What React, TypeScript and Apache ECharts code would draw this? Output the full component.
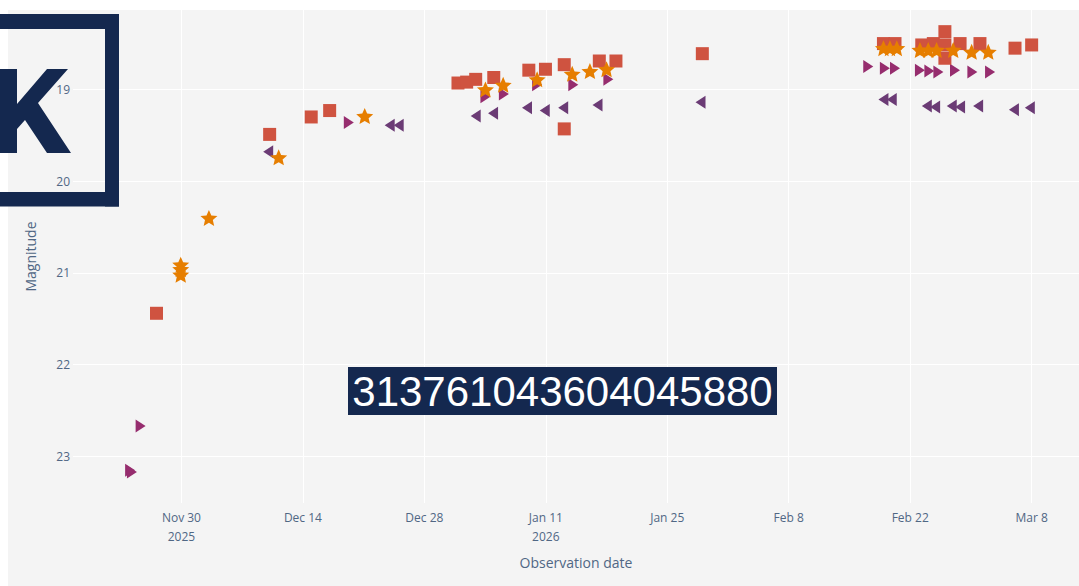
import React, { useEffect, useRef } from "react";
import * as echarts from "echarts";

// ---------- data ----------
const xTickDates = ["2025-11-30", "2025-12-14", "2025-12-28", "2026-01-11", "2026-01-25", "2026-02-08", "2026-02-22", "2026-03-08"];
const xTickLabels = ["Nov 30\n2025", "Dec 14", "Dec 28", "Jan 11\n2026", "Jan 25", "Feb 8", "Feb 22", "Mar 8"];
const yTickValues = [19, 20, 21, 22, 23];
const xRange = ["2025-11-17T12:00", "2026-03-13T11:00"];
const yRange = [18.134, 23.508];

const squareDates = [
  "2025-11-27T03:00", "2025-12-10T04:00", "2025-12-14T23:00", "2025-12-17T02:00", "2025-12-31T21:00",
  "2026-01-01T21:00", "2026-01-02T22:00", "2026-01-05T00:00", "2026-01-09T01:00", "2026-01-10T23:00",
  "2026-01-13T03:00", "2026-01-13T03:00", "2026-01-17T04:00", "2026-01-19T02:00", "2026-01-29T01:00",
  "2026-02-18T22:00", "2026-02-20T06:00", "2026-02-23T08:00", "2026-02-24T16:00", "2026-02-26T00:00",
  "2026-02-26T00:00", "2026-02-26T00:00", "2026-02-27T18:00", "2026-03-02T01:00", "2026-03-06T02:00",
  "2026-03-08T00:00",
];
const squareMags = [
  21.44, 19.49, 19.3, 19.23, 18.93,
  18.92, 18.89, 18.87, 18.79, 18.78,
  18.73, 19.43, 18.69, 18.69, 18.61,
  18.5, 18.5, 18.515, 18.5, 18.37,
  18.515, 18.66, 18.5, 18.5, 18.55,
  18.515,
];

const starDates = [
  "2025-11-29T22:00", "2025-11-29T22:00", "2025-11-29T22:00", "2025-12-03T04:00", "2025-12-11T05:00",
  "2025-12-21T03:00", "2026-01-04T01:00", "2026-01-06T02:00", "2026-01-10T00:00", "2026-01-14T01:00",
  "2026-01-16T02:00", "2026-01-18T00:00", "2026-02-18T22:00", "2026-02-19T16:00", "2026-02-20T11:00",
  "2026-02-23T03:00", "2026-02-24T02:00", "2026-02-25T01:00", "2026-02-26T23:00", "2026-03-01T02:00",
  "2026-03-03T00:00",
];
const starMags = [
  20.91, 20.96, 21.02, 20.4, 19.74,
  19.29, 19.0, 18.95, 18.89, 18.83,
  18.8, 18.78, 18.55, 18.55, 18.55,
  18.57, 18.57, 18.57, 18.57, 18.59,
  18.59,
];

const rightTriDates = [
  "2025-11-24T02:00", "2025-11-24T07:00", "2025-11-25T07:00", "2025-12-19T07:00", "2026-01-04T01:00",
  "2026-01-06T04:00", "2026-01-10T00:00", "2026-01-14T04:00", "2026-01-18T05:00", "2026-02-17T04:00",
  "2026-02-19T02:00", "2026-02-20T06:00", "2026-02-23T03:00", "2026-02-24T05:00", "2026-02-25T06:00",
  "2026-02-27T04:00", "2026-03-01T04:00", "2026-03-03T05:00",
];
const rightTriMags = [
  23.15, 23.17, 22.67, 19.36, 19.08,
  19.05, 18.95, 18.95, 18.89, 18.75,
  18.77, 18.77, 18.79, 18.8, 18.81,
  18.79, 18.81, 18.81,
];

const leftTriDates = [
  "2025-12-10T00:00", "2025-12-24T00:00", "2025-12-25T01:00", "2026-01-02T22:00", "2026-01-04T22:00",
  "2026-01-08T20:00", "2026-01-10T21:00", "2026-01-13T00:00", "2026-01-16T23:00", "2026-01-28T20:00",
  "2026-02-18T22:00", "2026-02-19T21:00", "2026-02-23T22:00", "2026-02-24T21:00", "2026-02-26T19:00",
  "2026-02-27T18:00", "2026-03-01T20:00", "2026-03-05T23:00", "2026-03-07T19:00",
];
const leftTriMags = [
  19.68, 19.39, 19.39, 19.29, 19.26,
  19.2, 19.23, 19.2, 19.17, 19.14,
  19.11, 19.11, 19.18, 19.19, 19.18,
  19.19, 19.18, 19.22, 19.2,
];

const objectId = "313761043604045880";

// ---------- helpers ----------
function ts(s: string): number {
  const [d, t = "00:00"] = s.split("T");
  const [Y, M, D] = d.split("-").map(Number);
  const [h, m] = t.split(":").map(Number);
  return Date.UTC(Y, M - 1, D, h, m);
}

function starPath(): string {
  const pts: string[] = [];
  for (let i = 0; i < 10; i++) {
    const a = ((-90 + i * 36) * Math.PI) / 180;
    const r = i % 2 === 0 ? 10 : 4.6;
    pts.push(`${(r * Math.cos(a)).toFixed(3)},${(r * Math.sin(a)).toFixed(3)}`);
  }
  return "path://M" + pts.join("L") + "Z";
}

const NAVY = "#14284f";
const TICK_COLOR = "#506784";

export default function App() {
  const ref = useRef<HTMLDivElement>(null);

  useEffect(() => {
    if (!ref.current) return;
    const chart = echarts.init(ref.current, undefined, { renderer: "svg" });
    const tickTs = xTickDates.map(ts);
    const toPairs = (ds: string[], ms: number[]) => ds.map((d, i) => [ts(d), ms[i]]);

    const option: any = {
      animation: false,
      backgroundColor: "#ffffff",
      grid: { left: 73, top: 10, right: 0, bottom: 83, containLabel: false },
      xAxis: {
        type: "value",
        min: ts(xRange[0]),
        max: ts(xRange[1]),
        axisLine: { show: false },
        axisTick: { show: false, customValues: tickTs },
        axisLabel: {
          customValues: tickTs,
          formatter: (v: number) => {
            const i = tickTs.indexOf(v);
            return i >= 0 ? xTickLabels[i] : "";
          },
          color: TICK_COLOR,
          fontFamily: "Open Sans",
          fontSize: 12,
          lineHeight: 19,
          margin: 5,
          showMinLabel: true,
          showMaxLabel: true,
        },
        splitLine: { show: true, lineStyle: { color: "#ffffff", width: 1 } },
        name: "Observation date",
        nameLocation: "middle",
        nameGap: 52,
        nameTextStyle: { color: TICK_COLOR, fontFamily: "Open Sans", fontSize: 14 },
      },
      yAxis: {
        type: "value",
        inverse: true,
        min: yRange[0],
        max: yRange[1],
        axisLine: { show: false },
        axisTick: { show: false, customValues: yTickValues },
        axisLabel: {
          customValues: yTickValues,
          color: TICK_COLOR,
          fontFamily: "Open Sans",
          fontSize: 12,
          margin: 3,
        },
        splitLine: { show: true, lineStyle: { color: "#ffffff", width: 1 } },
        name: "Magnitude",
        nameLocation: "middle",
        nameGap: 36,
        nameTextStyle: { color: TICK_COLOR, fontFamily: "Open Sans", fontSize: 14 },
      },
      series: [
        {
          type: "scatter",
          data: toPairs(leftTriDates, leftTriMags),
          symbol: "path://M10,0L0,6.5L10,13Z",
          symbolSize: [10, 13],
          itemStyle: { color: "#6b3b75", opacity: 1 },
          silent: true,
        },
        {
          type: "scatter",
          data: toPairs(rightTriDates, rightTriMags),
          symbol: "path://M0,0L10,6.5L0,13Z",
          symbolSize: [10, 13],
          itemStyle: { color: "#962d6e", opacity: 1 },
          silent: true,
        },
        {
          type: "scatter",
          data: toPairs(squareDates, squareMags),
          symbol: "rect",
          symbolSize: 13,
          itemStyle: { color: "#cf5340", opacity: 1 },
          silent: true,
        },
        {
          type: "scatter",
          data: toPairs(starDates, starMags),
          symbol: starPath(),
          symbolSize: [17, 16],
          itemStyle: { color: "#e67e00", opacity: 1 },
          silent: true,
        },
      ],
      graphic: {
        elements: [
          { type: "rect", z: -10, silent: true, shape: { x: 8, y: 10, width: 1071, height: 576 }, style: { fill: "#f4f4f4" } },
          // logo frame
          { type: "rect", z: 100, shape: { x: -10, y: 14, width: 129, height: 15 }, style: { fill: NAVY } },
          { type: "rect", z: 100, shape: { x: -10, y: 192, width: 129, height: 14.5 }, style: { fill: NAVY } },
          { type: "rect", z: 100, shape: { x: 105, y: 14, width: 14, height: 192.5 }, style: { fill: NAVY } },
          {
            type: "polygon",
            z: 100,
            shape: {
              points: [
                [-20, 69], [17, 69], [17, 104], [47, 69], [68, 69], [38, 103], [71, 153],
                [47, 153], [25, 120], [17, 129], [17, 153], [-20, 153],
              ],
            },
            style: { fill: NAVY },
          },
          // id label
          { type: "rect", z: 100, shape: { x: 348, y: 367, width: 429, height: 48 }, style: { fill: NAVY } },
          {
            type: "text",
            z: 101,
            x: 562.5,
            y: 391.5,
            style: {
              text: objectId,
              fill: "#ffffff",
              font: '42px "Liberation Sans", Arial, sans-serif',
              align: "center",
              verticalAlign: "middle",
            },
          },
        ],
      },
    };
    chart.setOption(option);
    return () => chart.dispose();
  }, []);

  return (
    <div
      ref={ref}
      style={{ position: "absolute", left: 0, top: 0, width: 1079, height: 586 }}
    />
  );
}
